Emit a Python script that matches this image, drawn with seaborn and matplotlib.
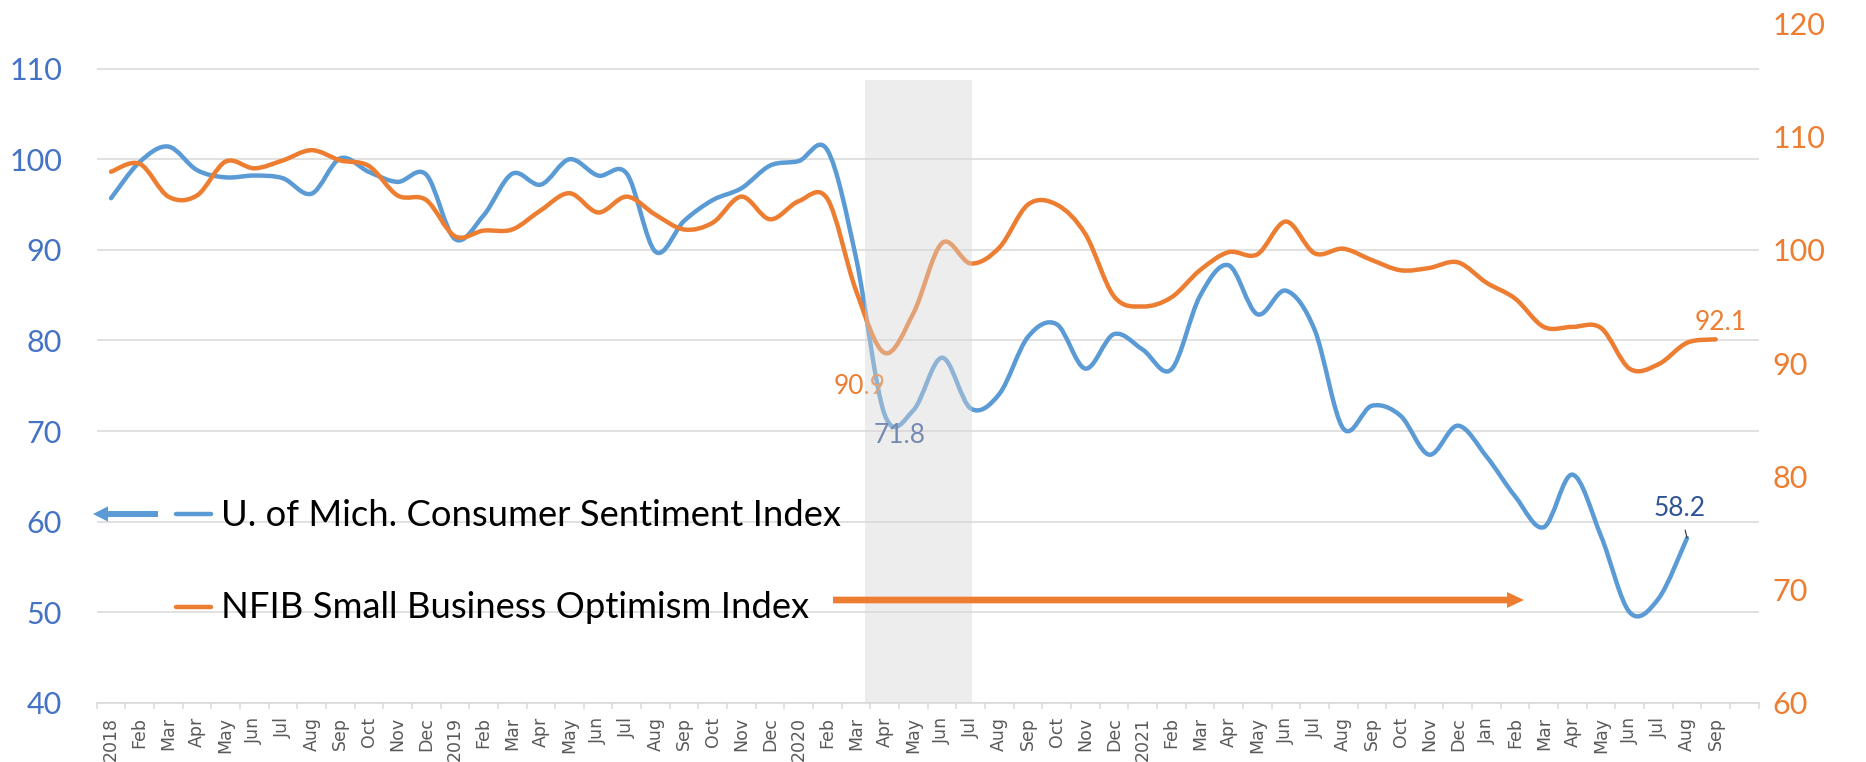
import numpy as np
import pandas as pd
import matplotlib
matplotlib.use("Agg")
import matplotlib.pyplot as plt
import seaborn as sns
from matplotlib.path import Path
from matplotlib.patches import PathPatch, FancyArrowPatch
from matplotlib.lines import Line2D

# ---------------- data ----------------
month_labels = [
    "2018", "Feb", "Mar", "Apr", "May", "Jun", "Jul", "Aug", "Sep", "Oct", "Nov", "Dec",
    "2019", "Feb", "Mar", "Apr", "May", "Jun", "Jul", "Aug", "Sep", "Oct", "Nov", "Dec",
    "2020", "Feb", "Mar", "Apr", "May", "Jun", "Jul", "Aug", "Sep", "Oct", "Nov", "Dec",
    "2021", "Feb", "Mar", "Apr", "May", "Jun", "Jul", "Aug", "Sep", "Oct", "Nov", "Dec",
    "Jan", "Feb", "Mar", "Apr", "May", "Jun", "Jul", "Aug", "Sep", "",
]

umich_sentiment = [
    95.7, 99.7, 101.4, 98.8, 98.0, 98.2, 97.9, 96.2, 100.1, 98.6, 97.5, 98.3,
    91.2, 93.8, 98.4, 97.2, 100.0, 98.2, 98.4, 89.8, 93.2, 95.5, 96.8, 99.3,
    99.8, 101.0, 89.1, 71.8, 72.3, 78.1, 72.5, 74.1, 80.4, 81.8, 76.9, 80.7,
    79.0, 76.8, 84.9, 88.3, 82.9, 85.5, 81.2, 70.3, 72.8, 71.7, 67.4, 70.6,
    67.2, 62.8, 59.4, 65.2, 58.4, 50.0, 51.5, 58.2,
]

nfib_optimism = [
    106.9, 107.6, 104.7, 104.8, 107.8, 107.2, 107.9, 108.8, 107.9, 107.4, 104.8, 104.4,
    101.2, 101.7, 101.8, 103.5, 105.0, 103.3, 104.7, 103.1, 101.8, 102.4, 104.7, 102.7,
    104.3, 104.5, 96.4, 90.9, 94.4, 100.6, 98.8, 100.2, 104.0, 104.0, 101.4, 95.9,
    95.0, 95.8, 98.2, 99.8, 99.6, 102.5, 99.7, 100.1, 99.1, 98.2, 98.4, 98.9,
    97.1, 95.7, 93.2, 93.2, 93.1, 89.5, 89.9, 91.8, 92.1,
]

left_ticks = [40, 50, 60, 70, 80, 90, 100, 110]
right_ticks = [60, 70, 80, 90, 100, 110, 120]

legend_umich = "U. of Mich. Consumer Sentiment Index"
legend_nfib = "NFIB Small Business Optimism Index"

# ---------------- style ----------------
BLUE = "#5B9BD5"
ORANGE = "#ED7D31"
DARKBLUE = "#2F5597"
TICKBLUE = "#4472C4"
GRID = "#D9D9D9"
XLAB = "#595959"

sns.set_theme(style="white")
plt.rcParams["font.family"] = ["Lato", "DejaVu Sans"]

W, H = 1866, 762
fig = plt.figure(figsize=(W / 100, H / 100), dpi=100)
fig.patch.set_facecolor("white")

ax_l, ax_r, ax_b, ax_t = 96.7, 1758.7, 703.0, 23.3
ax1 = fig.add_axes([ax_l / W, 1 - ax_b / H, (ax_r - ax_l) / W, (ax_b - ax_t) / H])
ax2 = ax1.twinx()

df_u = pd.DataFrame({"month": np.arange(len(umich_sentiment)), "value": umich_sentiment})
df_n = pd.DataFrame({"month": np.arange(len(nfib_optimism)), "value": nfib_optimism})

sns.lineplot(data=df_u, x="month", y="value", ax=ax1, color=BLUE, lw=3.2)
sns.lineplot(data=df_n, x="month", y="value", ax=ax2, color=ORANGE, lw=3.2)


def smooth_path(xy):
    n = len(xy)
    verts = [xy[0]]
    codes = [Path.MOVETO]
    for i in range(n - 1):
        p0 = xy[i - 1] if i > 0 else xy[i]
        p1 = xy[i]
        p2 = xy[i + 1]
        p3 = xy[i + 2] if i + 2 < n else xy[i + 1]
        c1 = p1 + (p2 - p0) / 6.0
        c2 = p2 - (p3 - p1) / 6.0
        verts += [c1, c2, p2]
        codes += [Path.CURVE4] * 3
    return Path(np.array(verts), codes)


# Excel-like smoothed lines, built from the seaborn-drawn line data
for ax in (ax1, ax2):
    for ln in list(ax.lines):
        xy = np.asarray(ln.get_xydata(), dtype=float)
        patch = PathPatch(smooth_path(xy), fill=False, edgecolor=ln.get_color(),
                          lw=ln.get_linewidth(), capstyle="round", joinstyle="round",
                          zorder=2)
        ax.add_patch(patch)
        ln.remove()

n_cat = len(month_labels)
ax1.set_xlim(-0.5, n_cat - 0.5)
ax1.set_ylim(40, 115)
ax2.set_ylim(60, 120)
ax1.set_yticks(left_ticks)
ax2.set_yticks(right_ticks)
ax1.set_yticklabels([str(v) for v in left_ticks])
ax2.set_yticklabels([str(v) for v in right_ticks])

ax1.set_xticks(np.arange(n_cat))
ax1.set_xticklabels(month_labels, rotation=90, family="DejaVu Sans", fontsize=12.5, color=XLAB)
ax1.set_xticks(np.arange(n_cat + 1) - 0.5, minor=True)
ax1.tick_params(axis="x", which="major", length=0, pad=10)
ax1.tick_params(axis="x", which="minor", length=4.5, width=1.1, color=GRID, direction="out", bottom=True)
ax1.tick_params(axis="y", length=0, pad=25, labelsize=22, labelcolor=TICKBLUE)
ax2.tick_params(axis="y", length=0, pad=10, labelsize=22, labelcolor=ORANGE)

for ax in (ax1, ax2):
    ax.set_xlabel("")
    ax.set_ylabel("")
    for s in ax.spines.values():
        s.set_visible(False)
ax1.spines["bottom"].set_visible(True)
ax1.spines["bottom"].set_color(GRID)
ax1.spines["bottom"].set_linewidth(1.1)

ax1.grid(axis="y", color=GRID, lw=1.1)
ax1.grid(axis="x", visible=False)
ax2.grid(False)

# shaded recession band, overlaid semi-transparently
ax2.axvspan(26.32, 30.04, ymin=0, ymax=0.9166, color="#D6D6D6", alpha=0.42, lw=0, zorder=5)

# data labels
i_u_low = umich_sentiment.index(71.8)
i_n_low = nfib_optimism.index(90.9)
ax2.annotate(f"{nfib_optimism[i_n_low]:.1f}", xy=(i_n_low, nfib_optimism[i_n_low]),
             xytext=(-18, -23.8), textcoords="offset points", ha="center", va="center",
             color=ORANGE, fontsize=19, zorder=3)
ax1.annotate(f"{umich_sentiment[i_u_low]:.1f}", xy=(i_u_low, umich_sentiment[i_u_low]),
             xytext=(10.8, -15.1), textcoords="offset points", ha="center", va="center",
             color=DARKBLUE, fontsize=19, zorder=3)
i_u_last = len(umich_sentiment) - 1
ax1.annotate(f"{umich_sentiment[i_u_last]:.1f}", xy=(i_u_last, umich_sentiment[i_u_last]),
             xytext=(-5, 21), textcoords="offset points", ha="center", va="center",
             color=DARKBLUE, fontsize=19, zorder=3,
             arrowprops=dict(arrowstyle="-", color="#303030", lw=0.8, shrinkA=4, shrinkB=0))
i_n_last = len(nfib_optimism) - 1
ax2.annotate(f"{nfib_optimism[i_n_last]:.1f}", xy=(i_n_last, nfib_optimism[i_n_last]),
             xytext=(3.6, 12.2), textcoords="offset points", ha="center", va="center",
             color=ORANGE, fontsize=19, zorder=3)

# custom legend (text + arrows)
def fx(px):
    return px / W


def fy(py):
    return 1 - py / H


t1 = fig.text(fx(221), fy(515), legend_umich, ha="left", va="center", fontsize=25, color="black")
t2 = fig.text(fx(221), fy(608), legend_nfib, ha="left", va="center", fontsize=25, color="black")
fig.canvas.draw()
w1 = t1.get_window_extent().width
scale = 622.0 / w1
t1.set_fontsize(25 * scale)
t2.set_fontsize(25 * scale)

fig.add_artist(Line2D([fx(176), fx(211)], [fy(514), fy(514)], color=BLUE, lw=3.2,
                      solid_capstyle="round"))
fig.add_artist(Line2D([fx(176), fx(211)], [fy(607), fy(607)], color=ORANGE, lw=3.2,
                      solid_capstyle="round"))
fig.add_artist(FancyArrowPatch((fx(158), fy(514)), (fx(93), fy(514)), transform=fig.transFigure,
                               arrowstyle="simple,head_length=1.08,head_width=1.1,tail_width=0.43",
                               mutation_scale=10, color=BLUE, lw=0, shrinkA=0, shrinkB=0))
fig.add_artist(FancyArrowPatch((fx(833), fy(600)), (fx(1524), fy(600)), transform=fig.transFigure,
                               arrowstyle="simple,head_length=1.22,head_width=1.15,tail_width=0.48",
                               mutation_scale=10, color=ORANGE, lw=0, shrinkA=0, shrinkB=0))

fig.savefig("out.png", dpi=100, facecolor="white")
